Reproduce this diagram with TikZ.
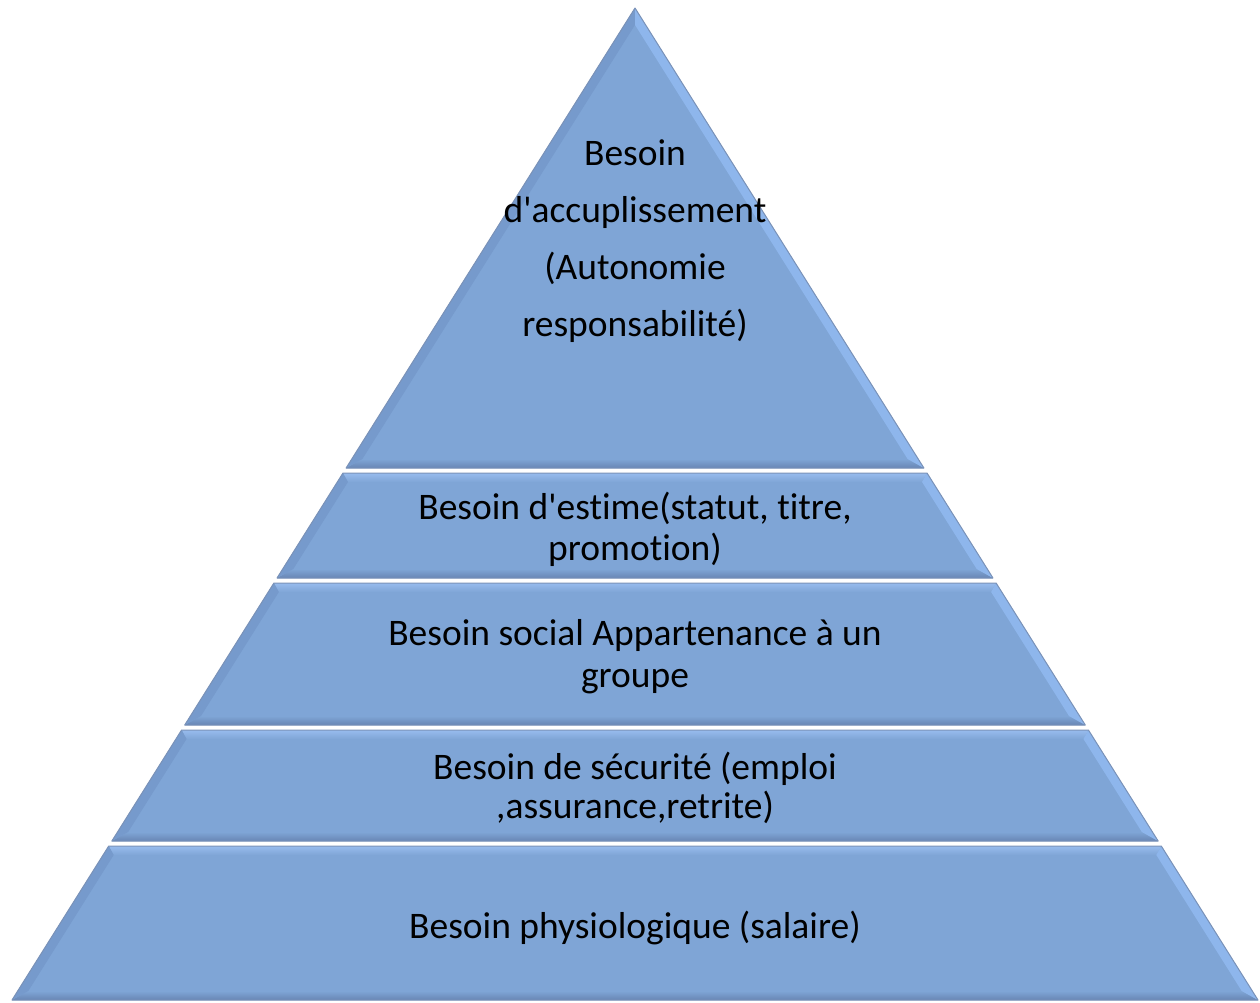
\documentclass[tikz,border=0pt]{standalone}
\usepackage{fontspec}
\setmainfont{Carlito}[Ligatures={TeXOff,NoCommon}]
\definecolor{face}{RGB}{127,165,214}
\definecolor{bevlight}{RGB}{152,188,238}
\definecolor{bevdark}{RGB}{104,134,180}
\definecolor{bevleft}{RGB}{118,154,204}
\definecolor{bevright}{RGB}{142,182,236}
\definecolor{rim}{RGB}{122,146,184}
\tikzset{
  lbl/.style={align=center, text=black, inner sep=0pt},
}
\newcommand\pyrlayer[2]{%
  \pgfmathsetmacro\pwa{(#1-8)*0.628}%
  \pgfmathsetmacro\pwb{(#2-8)*0.628}%
  \pgfmathsetmacro\pyia{max(#1+9,8+1.88*9)}%
  \pgfmathsetmacro\pyib{#2-9}%
  \pgfmathsetmacro\pwia{max(0,(\pyia-8)*0.628-1.18*9)}%
  \pgfmathsetmacro\pwib{(\pyib-8)*0.628-1.18*9}%
  \fill[face] (635-\pwa,#1) -- (635+\pwa,#1) -- (635+\pwb,#2) -- (635-\pwb,#2) -- cycle;
  \shade[top color=bevlight, bottom color=face] (635-\pwa,#1) -- (635+\pwa,#1) -- (635+\pwia,\pyia) -- (635-\pwia,\pyia) -- cycle;
  \shade[top color=face, bottom color=bevdark] (635-\pwib,\pyib) -- (635+\pwib,\pyib) -- (635+\pwb,#2) -- (635-\pwb,#2) -- cycle;
  \fill[bevleft] (635-\pwa,#1) -- (635-\pwia,\pyia) -- (635-\pwib,\pyib) -- (635-\pwb,#2) -- cycle;
  \fill[bevright] (635+\pwa,#1) -- (635+\pwia,\pyia) -- (635+\pwib,\pyib) -- (635+\pwb,#2) -- cycle;
  \draw[rim, line width=1pt, line join=round] (635-\pwa,#1) -- (635+\pwa,#1) -- (635+\pwb,#2) -- (635-\pwb,#2) -- cycle;
}
\begin{document}
\begin{tikzpicture}[x=1pt,y=-1pt]
\useasboundingbox (0,0) rectangle (1260,1002);
\fill[white] (0,0) rectangle (1260,1002);
\pyrlayer{8}{468}
\pyrlayer{473}{578}
\pyrlayer{583}{725}
\pyrlayer{730}{841}
\pyrlayer{846}{1000}
\node[lbl, font=\fontsize{37.5}{57}\selectfont] (top) at (635,241) {Besoin\\d'accuplissement\\(Autonomie\\responsabilité)};
\node[lbl, font=\fontsize{37.5}{41}\selectfont] (estime) at (635,529) {Besoin d'estime(statut, titre,\\promotion)};
\node[lbl, font=\fontsize{37.5}{42}\selectfont] (social) at (635,657) {Besoin social Appartenance à un\\groupe};
\node[lbl, font=\fontsize{37.5}{39}\selectfont] (secu) at (635,788) {Besoin de sécurité (emploi\\,assurance,retrite)};
\node[lbl, font=\fontsize{37.5}{39}\selectfont] (physio) at (635,928) {Besoin physiologique (salaire)};
\end{tikzpicture}
\end{document}
